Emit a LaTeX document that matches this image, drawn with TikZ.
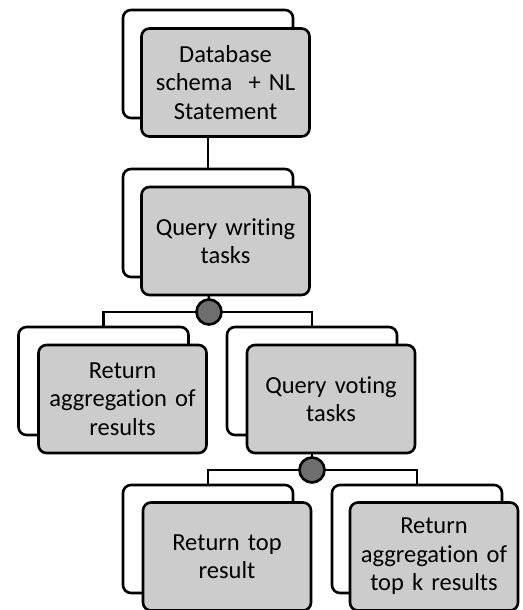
\documentclass[tikz,border=0pt]{standalone}
\usepackage{fontspec}
\setmainfont{Carlito}[Ligatures=NoCommon,WordSpace=0.8]
\usetikzlibrary{backgrounds}
\definecolor{boxgray}{RGB}{204,204,204}
\definecolor{dotgray}{RGB}{110,110,110}
\tikzset{
  backbox/.style={draw, line width=2.6pt, rounded corners=8pt, fill=white, minimum width=170pt, minimum height=108pt, inner sep=0pt},
  frontbox/.style={draw, line width=2.6pt, rounded corners=8pt, fill=boxgray, minimum width=168pt, minimum height=108pt, inner sep=2pt, align=center, text width=164pt, font=\fontsize{24.5}{28.5}\selectfont},
  junction/.style={circle, draw, line width=2.6pt, fill=dotgray, minimum size=25pt, inner sep=0pt},
  link/.style={line width=2.6pt}
}
\begin{document}
\begin{tikzpicture}[x=1pt,y=-1pt]
\useasboundingbox (0,0) rectangle (522,610);
% top
\node[backbox] (Tb) at (208,64) {};
\node[frontbox] (Tf) at (225.5,82.5) {Database\\schema\ \ + NL\\Statement};
% query writing
\node[backbox] (Qb) at (208,223) {};
\node[frontbox] (Qf) at (225.5,241) {Query writing\\tasks};
% junction 1
\node[junction] (c1) at (209,312) {};
% left
\node[backbox] (Lb) at (103.5,381) {};
\node[frontbox] (Lf) at (122.5,399) {Return\\aggregation of\\results};
% voting
\node[backbox] (Vb) at (312,381) {};
\node[frontbox] (Vf) at (331,399) {Query voting\\tasks};
% junction 2
\node[junction] (c2) at (312,470) {};
% bottom
\node[backbox] (Rb) at (208,539) {};
\node[frontbox] (Rf) at (227,556.5) {Return top\\result};
\node[backbox] (Kb) at (417,539) {};
\node[frontbox] (Kf) at (434,556.5) {Return\\aggregation of\\top k results};
\begin{pgfonlayer}{background}
\draw[link] (Tb.center) -- (Qb.center);
\draw[link] (Qb.center) -- (c1.center);
\draw[link] (c1.center) -| (Lb.center);
\draw[link] (c1.center) -| (Vb.center);
\draw[link] (Vb.center) -- (c2.center);
\draw[link] (c2.center) -| (Rb.center);
\draw[link] (c2.center) -| (Kb.center);
\end{pgfonlayer}
\end{tikzpicture}
\end{document}
